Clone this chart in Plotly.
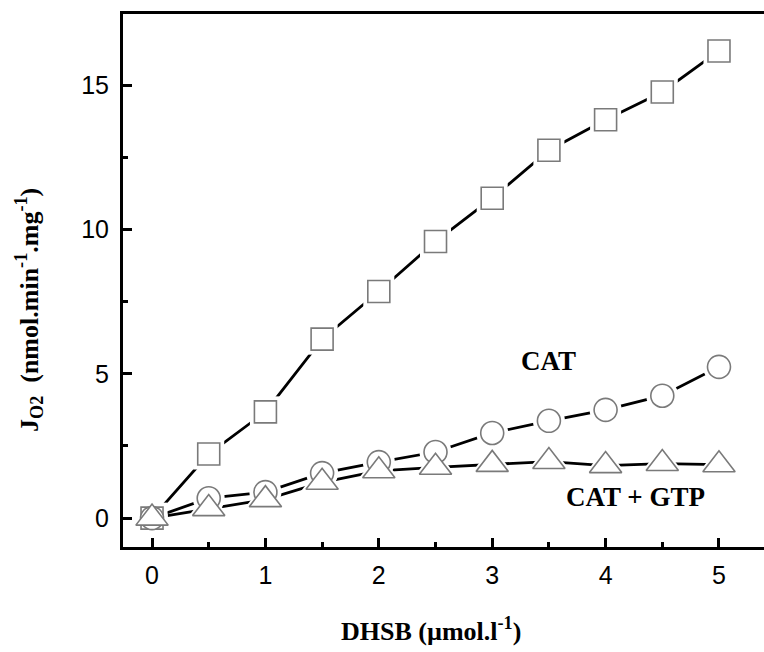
import plotly.graph_objects as go

dhsb = [0, 0.5, 1, 1.5, 2, 2.5, 3, 3.5, 4, 4.5, 5]
control = [0, 2.22, 3.68, 6.2, 7.85, 9.58, 11.08, 12.74, 13.8, 14.76, 16.18]
cat = [0, 0.69, 0.9, 1.56, 1.94, 2.29, 2.95, 3.37, 3.75, 4.24, 5.24]
cat_gtp = [0, 0.33, 0.64, 1.24, 1.64, 1.76, 1.86, 1.96, 1.82, 1.89, 1.85]

series = [
    ("control", control, "square", 22),
    ("CAT", cat, "circle", 23),
    ("CAT + GTP", cat_gtp, "triangle-up", 28),
]

fig = go.Figure()
# connecting lines
for name, ys, sym, sz in series:
    fig.add_trace(go.Scatter(x=dhsb, y=ys, mode="lines",
                             line=dict(color="black", width=2.8),
                             hoverinfo="skip", showlegend=False))
# white halos leaving gaps between lines and markers
for name, ys, sym, sz in series:
    fig.add_trace(go.Scatter(x=dhsb, y=ys, mode="markers",
                             marker=dict(symbol=sym, size=sz + 9, color="white",
                                         line=dict(width=0)),
                             hoverinfo="skip", showlegend=False))
# open markers
for name, ys, sym, sz in series:
    fig.add_trace(go.Scatter(x=dhsb, y=ys, mode="markers", name=name,
                             marker=dict(symbol=sym, size=sz, color="white",
                                         line=dict(color="#7a7a7a", width=1.6)),
                             showlegend=False))

serif = "Liberation Serif, Times New Roman, serif"
sans = "Liberation Sans, Arial, sans-serif"

def px_x(px):
    return (px - 123) / 641

def px_y(py):
    return (547 - py) / 533

fig.update_layout(
    width=764, height=652,
    margin=dict(l=123, r=0, t=14, b=105),
    paper_bgcolor="white", plot_bgcolor="white",
    showlegend=False,
    xaxis=dict(range=[-0.256, 5.397], tickvals=[0, 1, 2, 3, 4, 5],
               ticks="inside", ticklen=9, tickwidth=2.5, tickcolor="black",
               minor=dict(dtick=0.5, tick0=0, ticks="inside", ticklen=5,
                          tickwidth=2.5, tickcolor="black", showgrid=False),
               showline=True, linecolor="black", linewidth=3, mirror=True,
               showgrid=False, zeroline=False,
               tickfont=dict(family=sans, size=25, color="black"),
               ticklabelstandoff=4),
    yaxis=dict(range=[-1.0, 17.46], tickvals=[0, 5, 10, 15],
               ticks="inside", ticklen=9, tickwidth=2.5, tickcolor="black",
               minor=dict(dtick=2.5, tick0=0, ticks="inside", ticklen=5,
                          tickwidth=2.5, tickcolor="black", showgrid=False),
               showline=True, linecolor="black", linewidth=3,
               showgrid=False, zeroline=False,
               tickfont=dict(family=sans, size=25, color="black"),
               ticklabelstandoff=6),
    annotations=[
        dict(text="<b>CAT</b>", xref="paper", yref="paper",
             x=px_x(548), y=px_y(361), xanchor="center", yanchor="middle",
             showarrow=False, font=dict(family=serif, size=27, color="black")),
        dict(text="<b>CAT + GTP</b>", xref="paper", yref="paper",
             x=px_x(635), y=px_y(497), xanchor="center", yanchor="middle",
             showarrow=False, font=dict(family=serif, size=27, color="black")),
        dict(text="<b>DHSB (µmol.l<sup>-1</sup>)</b>", xref="paper", yref="paper",
             x=px_x(431), y=px_y(629), xanchor="center", yanchor="middle",
             showarrow=False, font=dict(family=serif, size=26, color="black")),
        dict(text="<b>J<sub>O2</sub>  (nmol.min<sup>-1</sup>.mg<sup>-1</sup>)</b>",
             xref="paper", yref="paper",
             x=px_x(29), y=px_y(310), textangle=-90,
             xanchor="center", yanchor="middle",
             showarrow=False, font=dict(family=serif, size=26, color="black")),
    ],
)

fig.write_html("out.html")
